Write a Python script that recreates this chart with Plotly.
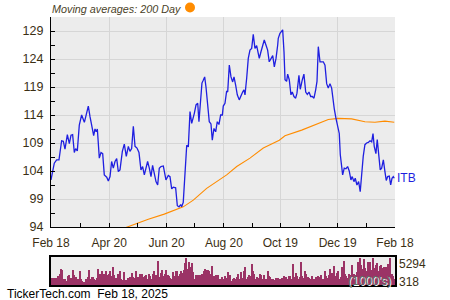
import pandas as pd
import plotly.graph_objects as go

START = pd.Timestamp("2024-02-18")
END = pd.Timestamp("2025-02-18")
SYMBOL = "ITB"

# price: days since start, closing price
price_days = [0, 1.4, 3.5, 6, 8.5, 11.3, 13.1, 14.9, 17.4, 19.5, 21.3, 23, 24.8, 26.2, 28, 30.1, 32.6, 35.5, 38, 39.7,
              41.5, 44, 45.4, 46.8, 48.2, 49.3, 51.4, 53.2, 55, 56.7, 59.3, 61, 62.8, 64.5, 66.3, 68.1, 69.9, 71.6, 73.4,
              75.9, 78, 80.1, 82.3, 84, 85.8, 87.6, 89.4, 91.5, 93.6, 95.7, 97.5, 99.3, 101, 102.8, 104.6, 106.4, 108.1,
              109.9, 111.7, 113.5, 115.2, 117, 119.5, 122.3, 124.8, 126.6, 128.4, 130.1, 132.6, 134.4, 136.2, 138, 139,
              140.7, 142.6, 144.4, 146.1, 147.9, 149.7, 151.4, 152.5, 154.3, 156.1, 157.4, 159.3, 160.6, 162, 163.5,
              164.9, 166.7, 168.4, 170.2, 171.6, 173.4, 175.2, 176.9, 178.7, 180.5, 182.3, 183.3, 185.1, 186.9, 188,
              189.7, 191.5, 193.3, 194.7, 196.5, 198.2, 200.3, 202.1, 203.9, 205.3, 206.4, 208.2, 209.9, 211.7, 213.5,
              215.2, 217, 218.8, 219.9, 221.6, 223.4, 225.2, 226.9, 228.7, 230.5, 232.2, 234, 235.9, 237.6, 239.4,
              241.2, 241.8, 243.6, 245.4, 246.5, 247.9, 249, 250.7, 251.8, 253.5, 255.3, 256.7, 258.5, 260.3, 261.7,
              263.8, 265.2, 267.4, 269.1, 271, 272.7, 274.5, 276.3, 278, 279.8, 281.6, 283, 284.4, 286.2, 288, 289.7,
              291.5, 293.3, 295, 296.8, 298.6, 299.7, 301.4, 303.2, 305, 306.7, 307.8, 309.3, 310.3, 312, 313.8, 315.6,
              317.3, 319.1, 320.5, 322.3, 323.7, 325.5, 327.3, 329, 330.5, 332.2, 334, 335.8, 337.6, 339.4, 341.2,
              342.6, 343.9, 345.7, 347.1, 348.9, 350.3, 351.8, 353.6, 355.3, 356.7, 358.2, 359.9, 361.4, 362.8, 364.2,
              365.2]
price_vals = [102.4, 103.9, 105.4, 106, 106, 109.4, 109.3, 107.9, 110.5, 108.9, 110.4, 110.5, 107.3, 108, 107.6, 112.2,
              114, 112.7, 114.6, 115.6, 113.7, 111.6, 110.3, 111.5, 111, 111.5, 106.3, 107.3, 107.1, 103.3, 102.9, 102.2,
              103, 105.7, 104.5, 105.7, 106.2, 103.9, 104.2, 107.5, 108.8, 106.6, 108.4, 107.5, 108, 112, 108.4, 108.1,
              107.3, 104.2, 104.8, 103.3, 104.8, 105.7, 104.5, 103, 105, 103.3, 102.1, 101.5, 104.5, 104.8, 104.9,
              102.4, 103.2, 103, 100.8, 101.1, 101, 97.8, 97.6, 98, 97.6, 98.4, 103.3, 108.6, 108.3, 114.6, 112.5, 114,
              114.3, 115.8, 116.1, 112.8, 116.3, 119.7, 120.2, 120.8, 119, 116.3, 112.8, 112.4, 109.5, 111.6, 111,
              112.8, 112.3, 114, 114, 115.6, 116.1, 118.3, 118.1, 122.9, 120.8, 119.9, 120.8, 119.3, 117.6, 116.7,
              117.6, 118.1, 118.5, 117.6, 120.6, 124.1, 125.6, 125.9, 128.4, 125.9, 126.4, 125.6, 124.1, 125.3, 126.5,
              127.4, 126.5, 125.6, 123.5, 124.1, 124.6, 122.6, 124.1, 126.5, 127.7, 128.6, 129, 129.2, 125.3, 120.3,
              120, 121.3, 120.3, 117.6, 118.1, 117.3, 117, 117.9, 121.1, 118.6, 120.3, 121.3, 118.1, 117.7, 118.1,
              117.3, 117.3, 117, 118.5, 120, 126.2, 123.5, 123.5, 123.5, 122.9, 119.6, 118.8, 119.6, 118.8, 116.9,
              115.1, 113.4, 111.6, 110.7, 106.9, 103.9, 103.3, 104.5, 104.4, 104.8, 104, 102.4, 103, 102.1, 102.7,
              101.5, 102.1, 100.3, 103.6, 106.6, 108.7, 109, 109.1, 109.4, 109.2, 110.7, 108.4, 107.1, 109.6, 106.6,
              104.2, 104.5, 106, 103.9, 102.3, 103, 103.1, 101.5, 102.7, 103, 102.7]

# 200-day moving average
ma_days = [78, 82.2, 91.2, 103.5, 120.5, 140.7, 151.4, 165.6, 186.9, 197.6, 211.7, 225.9, 242.9, 248.9, 266.7, 284.4,
           295, 305.6, 319.9, 334, 344.7, 355.3, 365.2]
ma_vals = [93.8, 94.05, 94.7, 95.4, 96.3, 97.6, 98.8, 100.9, 103.3, 104.8, 106.3, 108.1, 109.5, 110.3, 111.3, 112.5,
           113.2, 113.4, 113.3, 112.8, 112.7, 112.9, 112.7]

# daily volume (1000's)
volume = [1433, 1433, 1433, 1433, 1121, 1744, 2180, 3115, 2990, 1121, 1246, 747, 1744, 1994, 1370, 1370, 2990, 1994,
          1557, 1121, 1246, 2803, 1121, 747, 498, 318, 1121, 1557, 2990, 1246, 1557, 1557, 1121, 934, 1370, 3115, 2180,
          1744, 2616, 2180, 2180, 2616, 1869, 2180, 2616, 1744, 3426, 1869, 1370, 1121, 2180, 2616, 1121, 934, 2492,
          934, 934, 1370, 1370, 1557, 2367, 1557, 1370, 2616, 1121, 1557, 2180, 1246, 2180, 1557, 1744, 1994, 1121,
          2180, 1744, 1246, 2180, 2616, 1994, 1744, 4670, 1557, 2367, 2990, 1744, 2180,
          2990, 1994, 1744, 1370, 1121, 2492, 1744, 2803, 2616, 1744, 2180, 2616, 2367, 2990, 4236, 5294, 3115, 4485,
          3426, 4236, 2492, 1121, 1869, 1121, 1869, 1994, 1869, 2180, 2616, 3115, 2990, 2990, 2803, 2180, 3738, 1121,
          1744, 1869, 1370, 1869, 1246, 1121, 1557, 1246, 1744, 1370, 2492, 1121, 1869, 747, 1121, 1370, 1246, 1557,
          2180, 1121, 2492, 1370, 2616, 3426, 1246, 1557, 1994, 1744, 4050, 2803, 2180, 1121, 1557, 1370, 2180, 1869,
          1121, 1994, 934, 1246, 2616, 1744, 1557, 1121, 1246, 934, 1370, 1121, 1370, 1246, 1246,
          1370, 1744, 1121, 1557, 1246, 1744, 1744, 1246, 4050, 1557, 2367, 1744, 1246, 1557, 4360, 1744, 1370, 2803,
          2180, 1557, 1370, 1246, 1744, 1246, 1121, 1557, 1246, 1744, 1557, 1994, 1121, 1246, 2616, 1744, 1370, 1869,
          3115, 2367, 1557, 3738, 1744, 2367, 2616, 1246, 1557, 3426, 4670, 2180, 1744, 1370, 2180, 1994, 3862, 1869,
          2180, 1869, 2492, 4485, 5200, 3862, 3115, 5108, 3240, 2803, 4360, 3738, 4485, 2990, 5200, 3240, 3862, 4236,
          2803, 3613, 3862, 3240, 3426, 2803, 3426, 4050, 2803, 5150, 2180, 1744, 1121]

x_tick_dates = ["2024-02-18", "2024-04-20", "2024-06-20", "2024-08-20", "2024-10-19", "2024-12-19", "2025-02-18"]
x_tick_text = ["Feb 18", "Apr 20", "Jun 20", "Aug 20", "Oct 19", "Dec 19", "Feb 18"]
x_minor_dates = ["2024-03-20", "2024-05-20", "2024-07-20", "2024-09-19", "2024-11-19", "2025-01-19"]

price_x = [START + pd.Timedelta(days=d) for d in price_days]
ma_x = [START + pd.Timedelta(days=d) for d in ma_days]
vol_x = [d.strftime("%Y-%m-%d") for d in pd.bdate_range(end=END, periods=len(volume))]

TXT = "#3b2f14"
FONT = "Liberation Sans, Arial, sans-serif"
W, H = 450, 300

fig = go.Figure()
fig.add_trace(go.Scatter(x=ma_x, y=ma_vals, mode="lines", line=dict(color="#ff8c00", width=1.1),
                         hoverinfo="skip", showlegend=False))
fig.add_trace(go.Scatter(x=price_x, y=price_vals, mode="lines", line=dict(color="#1f1fe0", width=1.3),
                         showlegend=False))
fig.add_trace(go.Bar(x=vol_x, y=volume, marker=dict(color="#9b3366", line=dict(width=0)),
                     xaxis="x2", yaxis="y2", showlegend=False))

fig.update_layout(
    width=W, height=H,
    margin=dict(l=0, r=0, t=0, b=0),
    paper_bgcolor="white",
    plot_bgcolor="#ececec",
    font=dict(family=FONT, color=TXT),
    bargap=0,
    xaxis=dict(
        domain=[51 / W, 395 / W],
        type="date",
        range=[START, END],
        tickmode="array", tickvals=x_tick_dates, ticktext=x_tick_text,
        ticks="inside", ticklen=4, tickcolor="black",
        showgrid=True, gridcolor="#d6d6d6", gridwidth=1,
        showline=True, linecolor="black", linewidth=1.2,
        tickfont=dict(size=12, color=TXT),
        ticklabelstandoff=4,
        minor=dict(tickmode="array", tickvals=x_minor_dates, ticks="inside", ticklen=4,
                   tickcolor="black", showgrid=False),
        zeroline=False, fixedrange=True, automargin=False,
    ),
    yaxis=dict(
        domain=[1 - 227 / H, 1 - 17 / H],
        range=[94, 131.5],
        tick0=94, dtick=5,
        ticks="inside", ticklen=4, tickcolor="black",
        showgrid=True, gridcolor="#d6d6d6", gridwidth=1,
        showline=True, linecolor="black", linewidth=1.2,
        tickfont=dict(size=12.5, color=TXT),
        ticklabelstandoff=4,
        minor=dict(tick0=94, dtick=2.5, ticks="inside", ticklen=4, tickcolor="black", showgrid=False),
        zeroline=False, fixedrange=True, automargin=False,
    ),
    xaxis2=dict(
        domain=[51 / W, 395 / W],
        anchor="y2",
        type="category",
        showticklabels=False, ticks="",
        showgrid=False,
        showline=True, mirror=True, linecolor="black", linewidth=1.5,
        fixedrange=True, automargin=False,
    ),
    yaxis2=dict(
        domain=[1 - 285 / H, 1 - 257 / H],
        anchor="x2",
        range=[0, 5420],
        showticklabels=False, ticks="",
        showgrid=False, zeroline=False,
        showline=True, mirror=True, linecolor="black", linewidth=1.5,
        fixedrange=True, automargin=False,
    ),
)

annotations = [
    dict(text="Moving averages: 200 Day", xref="paper", yref="paper", x=50 / W, y=1 - 9 / H,
         xanchor="left", yanchor="middle", showarrow=False,
         font=dict(size=10.8, color="#4a3f28", family=FONT, style="italic")),
    dict(text=SYMBOL, xref="x", yref="y", x=price_x[-1], y=price_vals[-1], xanchor="left", yanchor="middle",
         xshift=1, showarrow=False, font=dict(size=12, color="#1f1fe0", family=FONT)),
    dict(text=str(max(volume)), xref="paper", yref="paper", x=397 / W, y=1 - 264 / H,
         xanchor="left", yanchor="middle", showarrow=False, font=dict(size=12, color=TXT, family=FONT)),
    dict(text=str(min(volume)), xref="paper", yref="paper", x=397 / W, y=1 - 282 / H,
         xanchor="left", yanchor="middle", showarrow=False, font=dict(size=12, color=TXT, family=FONT)),
    dict(text="(1000's)", xref="paper", yref="paper", x=393 / W, y=1 - 281 / H,
         xanchor="right", yanchor="middle", showarrow=False,
         font=dict(size=12, color="#5d6e64", family=FONT, shadow="1px 1px 0px #ffffff")),
    dict(text="TickerTech.com  Feb 18, 2025", xref="paper", yref="paper", x=5 / W, y=1 - 294 / H,
         xanchor="left", yanchor="middle", showarrow=False, font=dict(size=12, color="black", family=FONT)),
]
fig.update_layout(annotations=annotations)

fig.add_shape(type="circle", xref="paper", yref="paper",
              x0=185 / W, x1=195 / W, y0=1 - 12.5 / H, y1=1 - 2.5 / H,
              fillcolor="#ff8c00", line=dict(width=0))

fig.write_html("out.html", config=dict(displayModeBar=False))
